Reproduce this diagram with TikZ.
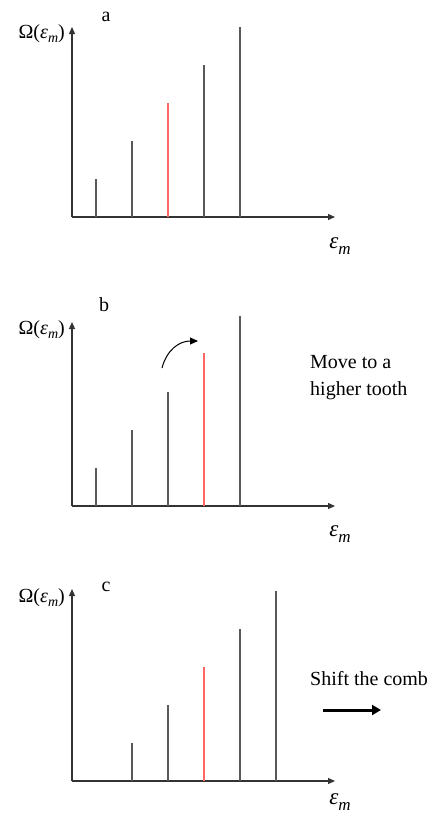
\documentclass[tikz,border=0pt]{standalone}
\usepackage{fontspec}
\setmainfont{Liberation Serif}
\usetikzlibrary{arrows.meta}
\tikzset{
  axis/.style={draw=black!80, line width=1.2pt, -{Triangle[length=7pt,width=6pt]}},
  tooth/.style={draw=black!65, line width=1.2pt},
  redtooth/.style={draw=red!60, line width=1.2pt},
  lbl/.style={font=\fontsize{20}{22}\selectfont, inner sep=0pt},
  txt/.style={font=\fontsize{20}{27}\selectfont, inner sep=0pt},
  elbl/.style={font=\fontsize{23}{24}\selectfont, inner sep=0pt},
}
\newcommand{\omlabel}{Ω(\textit{ε}\raisebox{-0.45ex}{\fontsize{14}{14}\selectfont\textit{m}})}
\newcommand{\emlabel}{\textit{ε}\raisebox{-0.5ex}{\fontsize{17}{17}\selectfont\textit{m}}}
\begin{document}
\begin{tikzpicture}[x=1pt,y=-1pt]
\useasboundingbox (0,0) rectangle (435,814);
% ---------- panel a ----------
\coordinate (oa) at (72,217);
\draw[axis] (oa) -- (72,27);
\draw[axis] (oa) -- (335,217);
\node[lbl, anchor=east] (Wa) at (65,34) {\omlabel};
\node[lbl] (la) at (106,17) {a};
\node[elbl] (ea) at (340,246) {\emlabel};
\draw[tooth] (96,217) -- (96,179);
\draw[tooth] (132,217) -- (132,141);
\draw[redtooth] (168,217) -- (168,103);
\draw[tooth] (204,217) -- (204,65);
\draw[tooth] (240,217) -- (240,27);
% ---------- panel b ----------
\coordinate (ob) at (72,506);
\draw[axis] (ob) -- (72,322);
\draw[axis] (ob) -- (335,506);
\node[lbl, anchor=east] (Wb) at (65,330) {\omlabel};
\node[lbl] (lb) at (104,305) {b};
\node[elbl] (eb) at (340,534) {\emlabel};
\draw[tooth] (96,506) -- (96,468);
\draw[tooth] (132,506) -- (132,430);
\draw[tooth] (168,506) -- (168,392);
\draw[redtooth] (204,506) -- (204,353);
\draw[tooth] (240,506) -- (240,316);
\coordinate (cs) at (162,368);
\coordinate (ce) at (198,341);
\draw[line width=1pt, -{Triangle[length=8pt,width=7pt]}] (cs) .. controls (167,349) and (180,341) .. (ce);
\node[txt, anchor=base west, align=left] (mv) at (310,395) {Move to a\\higher tooth};
% ---------- panel c ----------
\coordinate (oc) at (72,781);
\draw[axis] (oc) -- (72,589);
\draw[axis] (oc) -- (335,781);
\node[lbl, anchor=east] (Wc) at (65,598) {\omlabel};
\node[lbl] (lc) at (106,587) {c};
\node[elbl] (ec) at (340,802) {\emlabel};
\draw[tooth] (132,781) -- (132,743);
\draw[tooth] (168,781) -- (168,705);
\draw[redtooth] (204,781) -- (204,667);
\draw[tooth] (240,781) -- (240,629);
\draw[tooth] (276,781) -- (276,591);
\node[txt, anchor=base west] (sh) at (310,685) {Shift the comb};
\coordinate (s1) at (323,710);
\coordinate (s2) at (381,710);
\draw[line width=3pt, -{Triangle[length=9pt,width=10pt]}] (s1) -- (s2);
\end{tikzpicture}
\end{document}
